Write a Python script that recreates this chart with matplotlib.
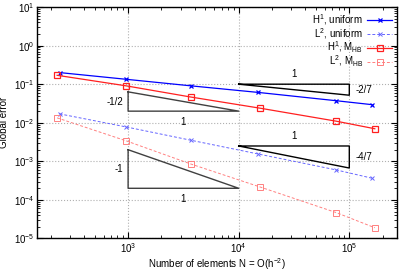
import numpy as np
import matplotlib
matplotlib.use('Agg')
import matplotlib.pyplot as plt

plt.rcParams['font.family'] = ['Liberation Sans', 'DejaVu Sans']
plt.rcParams['mathtext.fontset'] = 'custom'
plt.rcParams['mathtext.rm'] = 'Liberation Sans'
plt.rcParams['mathtext.it'] = 'Liberation Sans'

# number of elements
n_uniform = [240, 960, 3700, 15000, 76000, 160000]
n_mhb = [228, 960, 3700, 15700, 76000, 170000]

# errors
h1_uniform = [0.20, 0.134, 0.0906, 0.0612, 0.0373, 0.0295]
l2_uniform = [0.0170, 0.0078, 0.00352, 0.00155, 0.00060, 0.000366]
h1_mhb = [0.170, 0.0906, 0.0464, 0.0238, 0.0110, 0.0070]
l2_mhb = [0.0134, 0.0034, 0.00085, 0.000215, 4.7e-5, 1.9e-5]

# slope triangles: (x0, x1, y at anchor, slope, label)
tri_below = [(1e3, 1e4, 0.02, -1/2, '-1/2'), (1e3, 1e4, 2e-4, -1.0, '-1')]
tri_above = [(1e4, 1e5, 0.1, -2/7, '-2/7'), (1e4, 1e5, 0.0025, -4/7, '-4/7')]

fig = plt.figure(figsize=(3.99, 2.71), dpi=100)
ax = fig.add_axes([0.0927, 0.12, 0.9023, 0.854])

ax.plot(n_uniform, h1_uniform, '-', color='#0000ff', lw=0.9, marker='x', ms=3.5, mew=0.9,
        label=r'H$^1$, uniform')
ax.plot(n_uniform, l2_uniform, '--', color='#6666ff', lw=0.7, marker='x', ms=3.5, mew=0.7,
        dashes=(3, 2), label=r'L$^2$, uniform')
ax.plot(n_mhb, h1_mhb, '-', color='#ff2020', lw=0.9, marker='s', ms=3.8, mew=0.9,
        mfc='none', label=r'H$^1$, M$_{\rm HB}$')
ax.plot(n_mhb, l2_mhb, '--', color='#ff8080', lw=0.7, marker='s', ms=3.8, mew=0.7,
        mfc='none', dashes=(3, 2), label=r'L$^2$, M$_{\rm HB}$')

tc = '#404040'
for x0, x1, y0, s, lab in tri_below:
    y1 = y0 * (x1 / x0) ** (-s)
    ax.plot([x0, x0, x1, x0], [y1, y0, y0, y1], color=tc, lw=1.0)
    ax.text(x0 * 0.9, np.sqrt(y0 * y1), lab, ha='right', va='center', fontsize=7)
    ax.text(np.sqrt(x0 * x1), y0 * 0.72, '1', ha='center', va='top', fontsize=7)

for x0, x1, y0, s, lab in tri_above:
    y1 = y0 * (x1 / x0) ** s
    ax.plot([x0, x1, x1, x0], [y0, y0, y1, y0], color='black', lw=1.0)
    ax.text(x1 * 1.15, np.sqrt(y0 * y1), lab, ha='left', va='center', fontsize=7)
    ax.text(np.sqrt(x0 * x1), y0 * 1.35, '1', ha='center', va='bottom', fontsize=7)

ax.set_xscale('log')
ax.set_yscale('log')
ax.set_xlim(150, 2.7e5)
ax.set_ylim(1e-5, 10)
ax.set_yticks([1e-5, 1e-4, 1e-3, 1e-2, 1e-1, 1, 10])
ax.set_xticks([1e3, 1e4, 1e5])
ax.grid(True, which='major', color='#b0b0b0', ls=':', lw=0.8)
ax.tick_params(which='both', direction='in', top=True, right=True, labelsize=7, pad=2)
ax.tick_params(which='major', length=4)
ax.tick_params(which='minor', length=2)
for sp in ax.spines.values():
    sp.set_linewidth(1.0)

ax.set_xlabel(r'Number of elements N = O(h$^{-2}$)', fontsize=7, labelpad=1)
ax.set_ylabel('Global error', fontsize=7, labelpad=3)

leg = ax.legend(loc='upper right', markerfirst=False, frameon=False, fontsize=7,
                handlelength=2.6, labelspacing=-0.1, borderaxespad=0.2,
                borderpad=0.3, handletextpad=0.4)
for t in leg.get_texts():
    t.set_ha('right')

fig.savefig('out.png', dpi=100)
